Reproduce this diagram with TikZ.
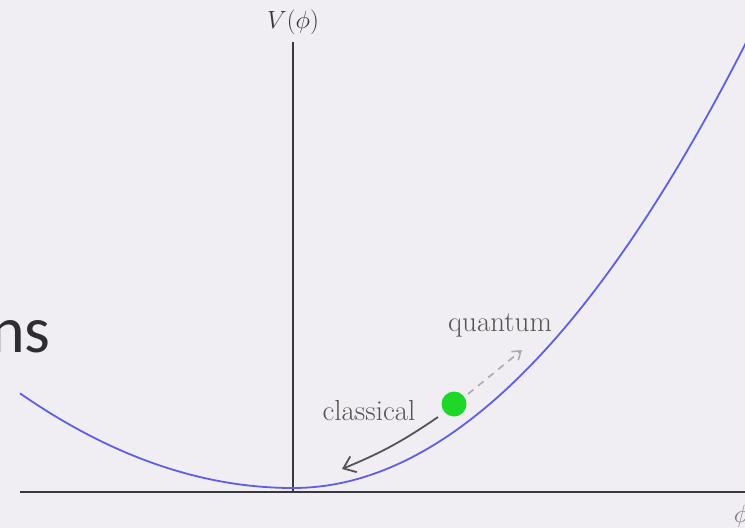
\documentclass[tikz,border=0pt]{standalone}
\usepackage{fontspec}
\newfontfamily\slidefont{Carlito}
\usetikzlibrary{arrows.meta}
\definecolor{bgcol}{RGB}{240,237,243}
\definecolor{axiscol}{RGB}{55,55,60}
\definecolor{curvecol}{RGB}{95,95,230}
\definecolor{ballcol}{RGB}{30,215,40}
\definecolor{labelcol}{RGB}{85,85,85}
\definecolor{qcol}{RGB}{170,170,175}
\definecolor{titlecol}{RGB}{45,45,50}
\tikzset{
  axisline/.style={draw=axiscol, line width=1.6pt},
  potential/.style={draw=curvecol, line width=1.8pt, line join=round},
  lbl/.style={text=labelcol, font=\fontsize{29}{32}\selectfont, inner sep=0pt},
  classicalarrow/.style={draw=axiscol!85, line width=1.8pt, -{Straight Barb[length=11pt,width=17pt,line width=1.8pt]}},
  quantumarrow/.style={draw=qcol, line width=1.6pt, dash pattern=on 7pt off 6pt, -{Straight Barb[length=8pt,width=11pt,line width=1.5pt]}}
}
\begin{document}
\begin{tikzpicture}[x=1pt,y=-1pt]
\useasboundingbox (0,0) rectangle (745,528);
\clip (0,0) rectangle (745,528);
\fill[bgcol] (0,0) rectangle (745,528);
% slide title fragment
\node[anchor=base east, inner sep=0pt, text=titlecol, font=\slidefont\fontsize{66}{70}\selectfont] (title) at (51,352) {ns};
% axes
\coordinate (xl) at (20,492);
\coordinate (xr) at (745,492);
\coordinate (yb) at (293,492);
\coordinate (yt) at (293,42);
\draw[axisline] (xl) -- (xr);
\draw[axisline, line width=1.3pt] (yb) -- (yt);
\node[lbl, text=axiscol] (vlabel) at (293,22) {$V(\phi)$};
\node[lbl, text=labelcol!80] (philabel) at (741,516) {$\phi$};
% potential
\draw[potential] plot[domain=-2.73:0, samples=50, smooth] ({293+100*\x},{488-12.7*\x*\x})
  -- plot[domain=0:4.54, samples=70, smooth] ({293+100*\x},{488-21.7*\x*\x});
% ball and arrows
\node[circle, fill=ballcol, minimum size=25pt, inner sep=0pt] (ball) at (454,404) {};
\coordinate (cstart) at (438,417);
\coordinate (cend) at (342,469);
\coordinate (qstart) at (468,394);
\coordinate (qend) at (522,350);
\draw[classicalarrow] (cstart) to[bend left=6] (cend);
\draw[quantumarrow] (qstart) -- (qend);
\node[lbl] (classical) at (369,411) {classical};
\node[lbl] (quantum) at (500,325) {quantum};
\end{tikzpicture}
\end{document}
